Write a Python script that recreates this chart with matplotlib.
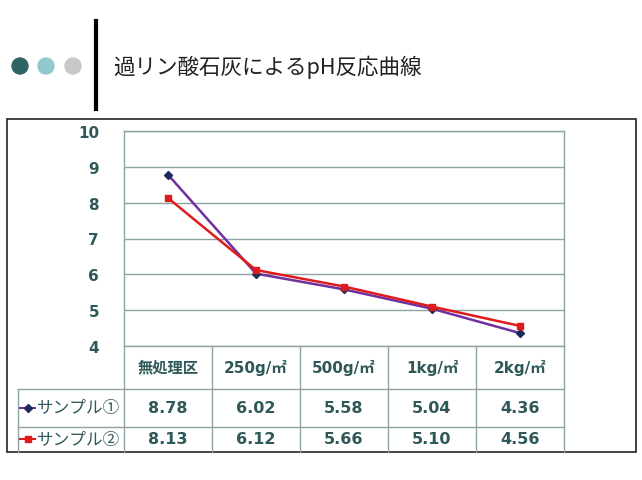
import matplotlib
matplotlib.use("Agg")
import matplotlib.pyplot as plt
from matplotlib.lines import Line2D
from matplotlib.patches import Rectangle, Circle
import matplotlib.transforms as mtransforms

plt.rcParams['font.family'] = ['DejaVu Sans', 'Noto Sans CJK JP']

title = "過リン酸石灰によるpH反応曲線"
categories = ["無処理区", "250g/㎡", "500g/㎡", "1kg/㎡", "2kg/㎡"]
series_names = ["サンプル①", "サンプル②"]
sample1 = [8.78, 6.02, 5.58, 5.04, 4.36]
sample2 = [8.13, 6.12, 5.66, 5.10, 4.56]
yticks = [4, 5, 6, 7, 8, 9, 10]

W, H = 642, 481
fig = plt.figure(figsize=(W / 100, H / 100), dpi=100)

def fx(x):
    return x / W

def fy(y):
    return 1 - y / H

txt_col = "#2F5858"
grid_col = "#8FA3A3"

# header decoration
for cx, col in [(20, "#2F6464"), (46, "#93C9CC"), (73, "#C8C8C8")]:
    fig.add_artist(Circle((cx, H - 67), 8, transform=None, color=col))
fig.add_artist(Line2D([fx(96), fx(96)], [fy(22), fy(110)], color="black", lw=3,
                      transform=fig.transFigure))
fig.text(fx(113), fy(67), title, fontsize=15.5, color="#222222", va="center", ha="left",
         family=['Noto Sans CJK JP', 'DejaVu Sans'])

# outer box
fig.add_artist(Rectangle((fx(7), fy(453)), fx(636) - fx(7), fy(120) - fy(453),
                         transform=fig.transFigure, fill=False, edgecolor="#222222", lw=1.2))

# main axes
left, right, top, bottom = 124, 564, 132, 347
ax = fig.add_axes([fx(left), fy(bottom), fx(right) - fx(left), fy(top) - fy(bottom)])
x = list(range(len(categories)))
ax.plot(x, sample1, color="#7030A0", lw=1.8, marker="D", markersize=4.5,
        markerfacecolor="#1F2A5E", markeredgecolor="#1F2A5E", zorder=3)
ax.plot(x, sample2, color="#E01B1B", lw=1.8, marker="s", markersize=4.5,
        markerfacecolor="#E01B1B", markeredgecolor="#E01B1B", zorder=3)
ax.set_xlim(-0.5, len(categories) - 0.5)
ax.set_ylim(4, 10)
ax.set_yticks(yticks)
ax.set_yticklabels([str(t) for t in yticks], fontsize=11, fontweight="bold", color=txt_col)
ax.tick_params(axis="y", length=0, pad=18)
ax.set_xticks([])
ax.yaxis.grid(True, color=grid_col, lw=1)
ax.set_axisbelow(True)
for s in ax.spines.values():
    s.set_color(grid_col)
    s.set_linewidth(1)

# data table
tr = mtransforms.blended_transform_factory(ax.transData, fig.transFigure)
line_kw = dict(color=grid_col, lw=1, clip_on=False)
for b in [i - 0.5 for i in range(len(categories) + 1)]:
    fig.add_artist(Line2D([b, b], [fy(347), fy(453)], transform=tr, **line_kw))
for yy in [390, 428]:
    fig.add_artist(Line2D([fx(18), fx(right)], [fy(yy), fy(yy)],
                          transform=fig.transFigure, **line_kw))
fig.add_artist(Line2D([fx(18), fx(18)], [fy(390), fy(453)],
                      transform=fig.transFigure, **line_kw))

for i, c in enumerate(categories):
    fig.text(i, fy(368), c, transform=tr, ha="center", va="center", fontsize=11,
             fontweight="bold", color=txt_col)
for i, v in enumerate(sample1):
    fig.text(i, fy(409), f"{v:.2f}", transform=tr, ha="center", va="center",
             fontsize=11.5, fontweight="bold", color=txt_col)
for i, v in enumerate(sample2):
    fig.text(i, fy(440), f"{v:.2f}", transform=tr, ha="center", va="center",
             fontsize=11.5, fontweight="bold", color=txt_col)

# legend keys
for yy, lc, mk, mc, name in [(409, "#7030A0", "D", "#1F2A5E", series_names[0]),
                             (440, "#E01B1B", "s", "#E01B1B", series_names[1])]:
    fig.add_artist(Line2D([fx(20), fx(35)], [fy(yy), fy(yy)], color=lc, lw=1.5,
                          transform=fig.transFigure))
    fig.add_artist(Line2D([fx(27.5)], [fy(yy)], marker=mk, markersize=4,
                          color=mc, transform=fig.transFigure))
    fig.text(fx(37), fy(yy), name, ha="left", va="center", fontsize=12,
             color=txt_col, family=['Noto Sans CJK JP', 'DejaVu Sans'])

fig.savefig("out.png", dpi=100)
